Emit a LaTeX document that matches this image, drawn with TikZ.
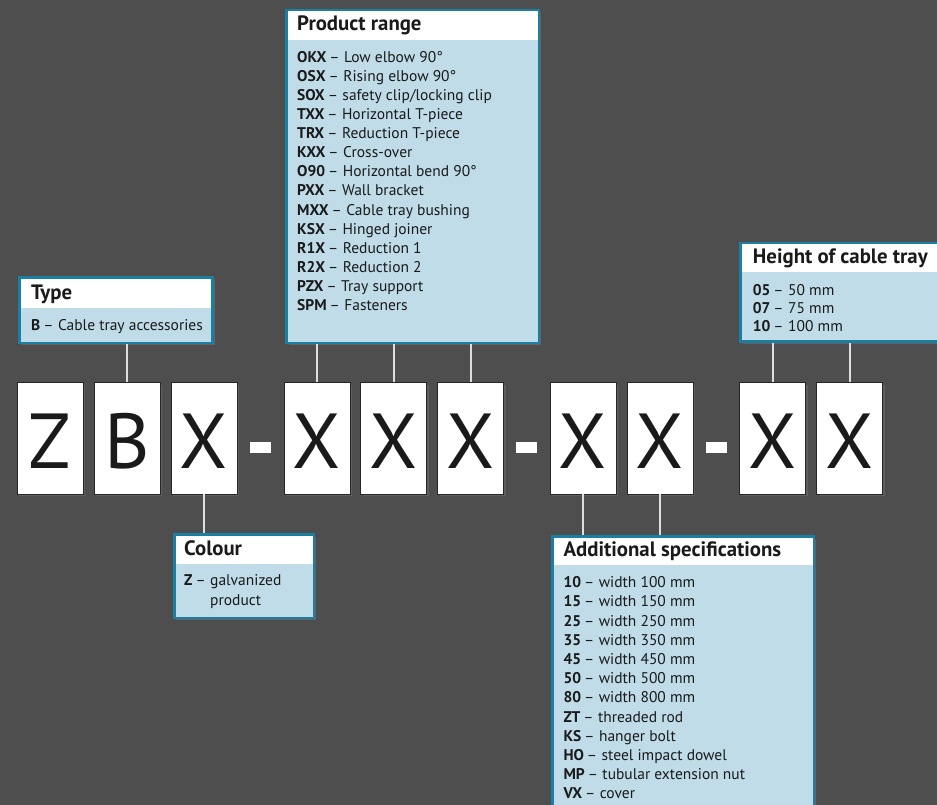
\documentclass[tikz,border=0pt]{standalone}
\usepackage{fontspec}
\setmainfont{PT Sans}
\usetikzlibrary{shadows}
\definecolor{bg}{HTML}{4D4E4D}
\definecolor{tealb}{HTML}{1A7FA2}
\definecolor{lblue}{HTML}{BFDCE8}
\definecolor{conn}{HTML}{DEDEDE}
\definecolor{txt}{HTML}{1A1A1A}
\newcommand\dsh{\kern3pt–\kern4.5pt}
\begin{document}
\begin{tikzpicture}[x=1pt,y=-1pt,
  letterbox/.style={draw=black!85, line width=0.8pt, fill=white, minimum width=66pt,
    minimum height=111.3pt, inner sep=0pt, text height=61pt, text depth=0pt,
    font=\fontsize{78}{78}\selectfont, text=txt,
    drop shadow={opacity=0.35, shadow xshift=2pt, shadow yshift=-2pt}},
  dashbox/.style={fill=white, minimum width=21pt, minimum height=11pt, inner sep=0pt},
  infobox/.style={draw=tealb, line width=2.5pt, fill=lblue, anchor=north west, inner sep=0pt,
    drop shadow={opacity=0.4, shadow xshift=2pt, shadow yshift=-2pt},
    path picture={\fill[white] (path picture bounding box.north west) rectangle
      ([yshift=-#1]path picture bounding box.north east);}},
  infobox/.default=30pt,
  head/.style={anchor=base west, inner sep=0pt, text=txt, font=\fontsize{20.8}{20.8}\selectfont\bfseries},
  item/.style={anchor=base west, inner sep=0pt, text=txt, font=\fontsize{15.5}{15.5}\selectfont},
  connector/.style={draw=conn, line width=2pt}
]
\useasboundingbox (0,0) rectangle (937,805);
\fill[bg] (0,0) rectangle (937,805);
\clip (0,0) rectangle (937,805);

% info boxes
\node[infobox=30.7pt, minimum width=193.4pt, minimum height=65.7pt] (type) at (18,276) {};
\node[infobox=30.4pt, minimum width=252.4pt, minimum height=333.1pt] (prod) at (285.3,8.6) {};
\node[infobox=28.7pt, minimum width=240pt, minimum height=98.4pt] (height) at (739.3,242) {};
\node[infobox=29.4pt, minimum width=139.7pt, minimum height=83.4pt] (colour) at (173,533.3) {};
\node[infobox=28.7pt, minimum width=261.4pt, minimum height=300pt] (addl) at (551.3,535.3) {};

% letter boxes
\node[letterbox] (c1) at (50,438.4) {Z};
\node[letterbox] (c2) at (127,438.4) {B};
\node[letterbox] (c3) at (204,438.4) {X};
\node[dashbox] (d1) at (260.7,447) {};
\node[letterbox] (c4) at (317,438.4) {X};
\node[letterbox] (c5) at (393.5,438.4) {X};
\node[letterbox] (c6) at (470.5,438.4) {X};
\node[dashbox] (d2) at (526.5,447) {};
\node[letterbox] (c7) at (583,438.4) {X};
\node[letterbox] (c8) at (660,438.4) {X};
\node[dashbox] (d3) at (716,447) {};
\node[letterbox] (c9) at (772.5,438.4) {X};
\node[letterbox] (c10) at (849.5,438.4) {X};

% connectors
\draw[connector] (c2.north) -- (c2.north |- type.south);
\draw[connector] (c4.north) -- (c4.north |- prod.south);
\draw[connector] (c5.north) -- (c5.north |- prod.south);
\draw[connector] (c6.north) -- (c6.north |- prod.south);
\draw[connector] (c9.north) -- (c9.north |- height.south);
\draw[connector] (c10.north) -- (c10.north |- height.south);
\draw[connector] (c3.south) -- (c3.south |- colour.north);
\draw[connector] (c7.south) -- (c7.south |- addl.north);
\draw[connector] (c8.south) -- (c8.south |- addl.north);

% texts
\node[head] (typeh) at (31,299.5) {Type};
\node[item] (type1) at (31,330) {\textbf{B}\dsh Cable tray accessories};

\node[head] (prodh) at (297,30.7) {Product range};
\foreach \b/\t [count=\i from 0] in {
  {OKX}/{Low elbow 90°},
  {OSX}/{Rising elbow 90°},
  {SOX}/{safety clip/locking clip},
  {TXX}/{Horizontal T-piece},
  {TRX}/{Reduction T-piece},
  {KXX}/{Cross-over},
  {O90}/{Horizontal bend 90°},
  {PXX}/{Wall bracket},
  {MXX}/{Cable tray bushing},
  {KSX}/{Hinged joiner},
  {R1X}/{Reduction 1},
  {R2X}/{Reduction 2},
  {PZX}/{Tray support},
  {SPM}/{Fasteners}}
  \node[item] (prod\i) at (297,62.7+19.04*\i) {\textbf{\b}\dsh\t};

\node[head] (heighth) at (752.7,263.8) {Height of cable tray};
\foreach \b/\t [count=\i from 0] in {{05}/{50 mm},{07}/{75 mm},{10}/{100 mm}}
  \node[item] (height\i) at (752.7,295+18.4*\i) {\textbf{\b}\dsh\t};

\node[head] (colourh) at (184,555.7) {Colour};
\node[item] (colour1) at (184,585.7) {\textbf{Z}\kern3pt–};
\node[item] (colour2) at (210,585.7) {galvanized};
\node[item] (colour3) at (210,605) {product};

\node[head] (addlh) at (563.3,556) {Additional specifications};
\foreach \b/\t [count=\i from 0] in {
  {10}/{width 100 mm},
  {15}/{width 150 mm},
  {25}/{width 250 mm},
  {35}/{width 350 mm},
  {45}/{width 450 mm},
  {50}/{width 500 mm},
  {80}/{width 800 mm},
  {ZT}/{threaded rod},
  {KS}/{hanger bolt},
  {HO}/{steel impact dowel},
  {MP}/{tubular extension nut},
  {VX}/{cover}}
  \node[item] (addl\i) at (563.3,587.7+19.2*\i) {\textbf{\b}\dsh\t};
\end{tikzpicture}
\end{document}
